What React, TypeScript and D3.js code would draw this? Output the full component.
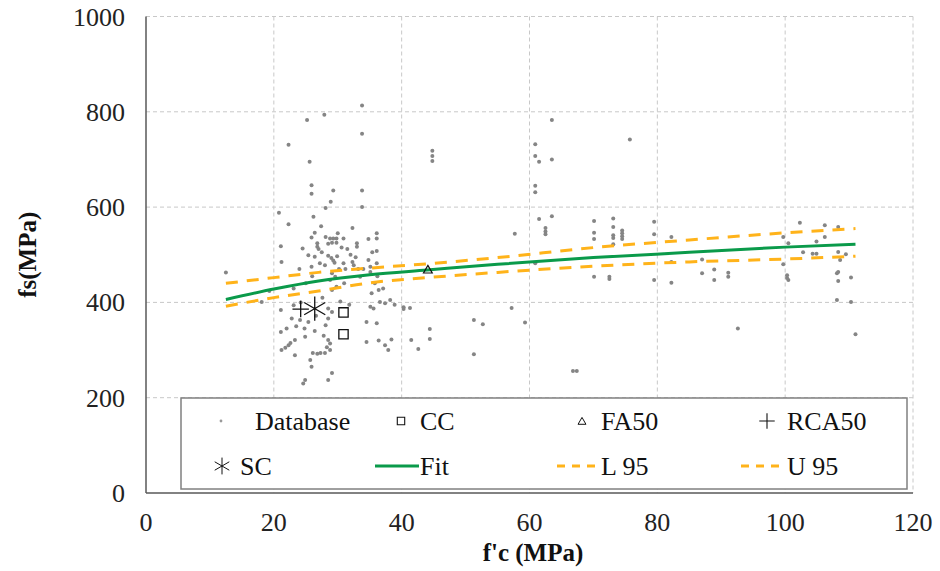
import React from "react";
import * as d3 from "d3";

// ---- Data ----
const xTicks = [0, 20, 40, 60, 80, 100, 120];
const yTicks = [0, 200, 400, 600, 800, 1000];

const dbX = [
  33.8, 27.9, 25.2, 33.8, 22.3, 25.6, 25.9, 25.9, 29.3, 33.8, 28.9, 28.1, 33.8, 20.8, 22.3, 32.3, 26.4, 36.1, 25.9, 28.1,
  28.8, 29.3, 29.8, 30.9, 34.8, 36.1, 26.8, 26.8, 21.1, 24.5, 28.5, 29.1, 29.8, 30.6, 33.0, 33.0, 36.1,
  25.4, 26.4, 27.2, 28.5, 29.0, 29.3, 29.5, 29.9, 28.0, 30.9, 32.3, 32.5, 34.8, 35.1, 36.1, 21.2, 25.9, 29.1, 29.6,
  28.8, 35.1, 33.5, 36.2, 29.8, 29.1, 35.8, 36.4, 35.3, 37.1, 19.3, 23.1, 18.1,
  21.1, 23.1, 22.8, 24.1, 25.4, 28.5, 29.1, 28.1, 28.5, 34.5, 35.1, 35.6, 36.1, 36.6, 37.4, 21.1, 24.9, 26.4, 23.3,
  22.3, 21.8, 22.6, 21.2, 23.3, 28.5, 28.8, 28.3, 28.8, 26.1, 26.8, 27.3, 28.0, 34.5, 37.4, 37.9, 25.7, 25.9, 29.1,
  28.5, 24.6, 24.9, 38.2, 38.9, 38.4, 36.4,
  27.5, 30.2, 31.5, 24.0, 26.0, 27.0, 31.0, 32.0, 34.0, 23.5, 24.8, 27.6, 30.4, 31.8, 33.2, 26.6, 27.8, 24.2, 22.0,
  30.0, 31.2, 27.4, 26.2, 32.8, 35.4, 25.0,
  44.8, 44.8, 44.8, 63.5, 60.9, 60.9, 61.5, 63.5, 60.9, 60.9, 61.5, 63.5, 62.5, 62.5, 62.5, 57.7, 70.1, 70.1, 70.1,
  70.1, 60.9, 40.3, 40.3, 41.3, 57.2, 51.3, 52.7, 59.3, 44.4, 44.4, 41.5, 42.6, 51.3, 66.8, 67.4,
  75.7, 73.1, 73.1, 73.1, 73.1, 74.5, 74.5, 74.5, 74.5, 73.1, 79.5, 79.5, 82.2, 72.5, 72.5, 79.5, 82.2, 82.2, 87.0,
  87.0, 88.9, 88.9, 91.1, 91.1, 92.6, 99.7, 99.7, 100.3, 100.3,
  102.3, 100.5, 100.5, 106.2, 108.3, 106.2, 104.9, 102.8, 104.3, 104.9, 108.3, 109.5, 108.6, 108.1, 108.3, 108.3,
  110.3, 108.1, 110.3, 111.0, 12.5,
];
const dbY = [
  813, 794, 783, 754, 731, 695, 646, 628, 635, 635, 611, 598, 600, 588, 564, 556, 546, 545, 536, 537,
  534, 534, 534, 534, 533, 534, 524, 517, 518, 513, 523, 525, 525, 515, 524, 517, 508,
  499, 496, 482, 498, 493, 488, 483, 497, 478, 482, 485, 478, 489, 475, 482, 485, 475, 461, 454,
  447, 464, 454, 455, 433, 426, 440, 426, 419, 429, 424, 429, 401,
  384, 394, 366, 363, 359, 387, 380, 352, 366, 359, 391, 387, 356, 401, 398, 338, 328, 340, 321,
  310, 305, 315, 300, 289, 321, 314, 306, 300, 294, 292, 294, 294, 317, 310, 300, 279, 265, 252,
  237, 230, 237, 405, 395, 322, 320,
  505, 470, 512, 470, 455, 512, 440, 500, 470, 350, 345, 410, 402, 395, 470, 372, 330, 400, 345,
  545, 470, 560, 580, 495, 505, 440,
  718, 707, 697, 783, 732, 707, 695, 700, 645, 631, 575, 581, 556, 549, 543, 544, 571, 546, 533,
  454, 482, 390, 386, 388, 388, 363, 354, 358, 344, 323, 321, 302, 291, 256, 256,
  742, 576, 558, 541, 535, 551, 545, 539, 533, 522, 569, 543, 537, 454, 449, 447, 485, 441, 461,
  490, 469, 447, 462, 454, 345, 537, 480, 457, 451,
  567, 524, 447, 562, 558, 537, 528, 505, 502, 502, 506, 501, 489, 461, 464, 445,
  452, 405, 401, 333, 463,
];

const ccX = [30.9, 30.9];
const ccY = [379, 333];
const fa50X = [44.1];
const fa50Y = [467];
const rca50X = [24.2];
const rca50Y = [386];
const scX = [26.4];
const scY = [387];

const fitX = [12.5, 20, 27, 35, 44, 55, 70, 85, 100, 111];
const fitY = [406, 428, 445, 458, 468, 480, 494, 505, 516, 522];
const u95Y = [440, 452, 463, 472, 481, 494, 515, 531, 546, 555];
const l95Y = [392, 410, 424, 441, 452, 463, 476, 485, 491, 497];

// ---- Layout ----
const W = 940;
const H = 571;
const X0 = 146;
const X1 = 913;
const Y0 = 493;
const Y1 = 16.5;
const FONT = "Liberation Serif, Tinos, Nimbus Roman, FreeSerif, DejaVu Serif, serif";
const CSS = `.tx { font-family: "Liberation Serif", "Tinos", "Nimbus Roman", "FreeSerif", serif !important; }`;

export default function App() {
  const x = d3.scaleLinear().domain([0, 120]).range([X0, X1]);
  const y = d3.scaleLinear().domain([0, 1000]).range([Y0, Y1]);

  const line = d3
    .line<[number, number]>()
    .x((d) => x(d[0]))
    .y((d) => y(d[1]))
    .curve(d3.curveMonotoneX);

  const fitPath = line(fitX.map((v, i) => [v, fitY[i]]))!;
  const uPath = line(fitX.map((v, i) => [v, u95Y[i]]))!;
  const lPath = line(fitX.map((v, i) => [v, l95Y[i]]))!;

  const sq = d3.symbol(d3.symbolSquare2, 110)()!;
  const tri = d3.symbol(d3.symbolTriangle2, 55)()!;
  const plus = d3.symbol(d3.symbolPlus, 90)()!;
  const ast = d3.symbol(d3.symbolAsterisk, 420)()!;
  const plusL = d3.symbol(d3.symbolPlus, 80)()!;
  const astL = d3.symbol(d3.symbolAsterisk, 200)()!;
  const sqL = d3.symbol(d3.symbolSquare2, 70)()!;
  const triL = d3.symbol(d3.symbolTriangle2, 45)()!;

  const green = "#0a9a4a";
  const orange = "#ffb31a";
  const grid = "#c8c8c8";

  const row1 = 421;
  const row2 = 466;
  const fs = 26;
  const dy = 9;

  const legendTexts: [number, number, string][] = [
    [255, row1, "Database"],
    [420, row1, "CC"],
    [601, row1, "FA50"],
    [787, row1, "RCA50"],
    [240, row2, "SC"],
    [420, row2, "Fit"],
    [601, row2, "L 95"],
    [787, row2, "U 95"],
  ];

  return (
    <svg width={W} height={H} style={{ position: "absolute", left: 0, top: 0 }}>
      <style>{CSS}</style>
      <rect x={0} y={0} width={W} height={H} fill="#fff" />
      {yTicks.filter((t) => t > 0).map((t) => (
        <line key={"gy" + t} x1={X0} x2={X1} y1={y(t)} y2={y(t)} stroke={grid} strokeWidth={1} strokeDasharray="4,3" />
      ))}
      {xTicks.filter((t) => t > 0).map((t) => (
        <line key={"gx" + t} x1={x(t)} x2={x(t)} y1={Y1} y2={Y0} stroke={grid} strokeWidth={1} strokeDasharray="4,3" />
      ))}
      <line x1={X0} x2={X0} y1={Y1} y2={Y0} stroke="#595959" strokeWidth={1.5} />
      <line x1={X0} x2={X1} y1={Y0} y2={Y0} stroke="#595959" strokeWidth={1.5} />

      {dbX.map((v, i) => (
        <circle key={"db" + i} cx={x(v)} cy={y(dbY[i])} r={2} fill="#858585" />
      ))}

      <path d={uPath} fill="none" stroke={orange} strokeWidth={3} strokeDasharray="12,9" />
      <path d={lPath} fill="none" stroke={orange} strokeWidth={3} strokeDasharray="12,9" />
      <path d={fitPath} fill="none" stroke={green} strokeWidth={3} />

      {ccX.map((v, i) => (
        <path key={"cc" + i} d={sq} transform={`translate(${x(v)},${y(ccY[i])})`} fill="none" stroke="#111" strokeWidth={1.3} />
      ))}
      {fa50X.map((v, i) => (
        <path key={"fa" + i} d={tri} transform={`translate(${x(v)},${y(fa50Y[i])})`} fill="none" stroke="#111" strokeWidth={1.2} />
      ))}
      {rca50X.map((v, i) => (
        <path key={"rc" + i} d={plus} transform={`translate(${x(v)},${y(rca50Y[i])})`} fill="none" stroke="#111" strokeWidth={1.3} />
      ))}
      {scX.map((v, i) => (
        <path key={"sc" + i} d={ast} transform={`translate(${x(v)},${y(scY[i])})`} fill="none" stroke="#111" strokeWidth={1.3} />
      ))}

      <rect x={181} y={398} width={726} height={91} fill="#fff" stroke="#808080" strokeWidth={1.5} />
      <circle cx={221} cy={row1} r={1.4} fill="#999" />
      <path d={sqL} transform={`translate(401,${row1})`} fill="none" stroke="#111" strokeWidth={1.1} />
      <path d={triL} transform={`translate(582,${row1 + 1})`} fill="none" stroke="#111" strokeWidth={1} />
      <path d={plusL} transform={`translate(767,${row1})`} fill="none" stroke="#111" strokeWidth={1.1} />
      <path d={astL} transform={`translate(222,${row2})`} fill="none" stroke="#111" strokeWidth={1} />
      <line x1={375} x2={419} y1={row2} y2={row2} stroke={green} strokeWidth={3} />
      <line x1={557} x2={601} y1={row2} y2={row2} stroke={orange} strokeWidth={3} strokeDasharray="8,7" />
      <line x1={741} x2={786} y1={row2} y2={row2} stroke={orange} strokeWidth={3} strokeDasharray="8,7" />
      {legendTexts.map(([tx, ty, s]) => (
        <text key={s} className="tx" x={tx} y={ty + dy} fontSize={fs} fontFamily={FONT} fill="#111">
          {s}
        </text>
      ))}

      {yTicks.map((t) => (
        <text key={"ty" + t} className="tx" x={125} y={y(t) + dy} fontSize={fs} fontFamily={FONT} textAnchor="end" fill="#222">
          {t}
        </text>
      ))}
      {xTicks.map((t) => (
        <text key={"tx" + t} className="tx" x={x(t)} y={522 + dy} fontSize={fs} fontFamily={FONT} textAnchor="middle" fill="#222">
          {t}
        </text>
      ))}

      <text className="tx" x={533} y={561} fontSize={25} fontFamily={FONT} fontWeight="bold" textAnchor="middle" fill="#111">
        f'c (MPa)
      </text>
      <text
        className="tx"
        transform={`translate(36,${(Y0 + Y1) / 2}) rotate(-90)`}
        fontSize={25}
        fontFamily={FONT}
        fontWeight="bold"
        textAnchor="middle"
        fill="#111"
      >
        fs(MPa)
      </text>
    </svg>
  );
}
